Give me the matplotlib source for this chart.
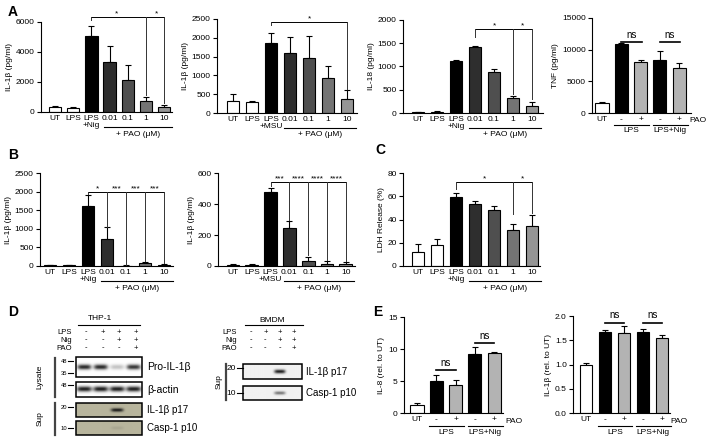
import matplotlib
matplotlib.use('Agg')
import matplotlib.pyplot as plt
import numpy as np
from matplotlib.patches import Rectangle

plt.rcParams['font.family'] = ['Liberation Sans', 'DejaVu Sans']
plt.rcParams['font.size'] = 6
plt.rcParams['axes.linewidth'] = 0.8
plt.rcParams['xtick.major.width'] = 0.8
plt.rcParams['ytick.major.width'] = 0.8
plt.rcParams['xtick.major.size'] = 3
plt.rcParams['ytick.major.size'] = 3
plt.rcParams['xtick.major.pad'] = 2
plt.rcParams['ytick.major.pad'] = 1.5

W, H = 708, 444
fig = plt.figure(figsize=(7.08, 4.44), dpi=100)

# ---------------- data ----------------
nig_cats = ['UT', 'LPS', 'LPS\n+Nig', '0.01', '0.1', '1', '10']
msu_cats = ['UT', 'LPS', 'LPS\n+MSU', '0.01', '0.1', '1', '10']
pao_cats = ['UT', '-', '+', '-', '+']

a1_vals = [300, 280, 5050, 3350, 2100, 750, 350]
a1_err = [120, 80, 650, 1050, 1050, 230, 130]
a2_vals = [320, 290, 1870, 1600, 1470, 920, 370]
a2_err = [190, 30, 250, 430, 570, 320, 230]
a3_vals = [15, 25, 1110, 1420, 890, 330, 150]
a3_err = [10, 10, 20, 25, 50, 30, 90]
a4_vals = [1600, 10900, 8100, 8400, 7100]
a4_err = [150, 150, 250, 1400, 800]
b1_vals = [25, 15, 1600, 730, 10, 75, 35]
b1_err = [15, 8, 320, 310, 5, 35, 15]
b2_vals = [8, 5, 475, 248, 35, 15, 10]
b2_err = [5, 5, 30, 45, 25, 15, 15]
c_vals = [12, 18, 59, 53, 48, 31, 34]
c_err = [7, 5, 4, 3, 4, 5, 10]
e1_vals = [1.2, 5.0, 4.4, 9.2, 9.3]
e1_err = [0.4, 1.0, 0.8, 1.1, 0.3]
e2_vals = [1.0, 1.67, 1.65, 1.66, 1.55]
e2_err = [0.03, 0.05, 0.14, 0.08, 0.05]

# blot band intensities (lanes: -/-/-, +/-/-, +/+/-, +/+/+)
lps_signs = ['-', '+', '+', '+']
nig_signs = ['-', '-', '+', '+']
pao_signs = ['-', '-', '-', '+']
thp_pro = [0.9, 0.9, 0.25, 0.85]
thp_actin = [0.95, 0.95, 0.95, 0.95]
thp_p17 = [0.0, 0.0, 0.95, 0.0]
thp_p10 = [0.0, 0.0, 0.12, 0.0]
bmdm_p17 = [0.0, 0.0, 0.95, 0.0]
bmdm_p10 = [0.0, 0.0, 0.6, 0.0]

dose_colors = ['white', 'white', 'black', '#2e2e2e', '#4f4f4f', '#747474', '#959595']
pao_colors = ['white', 'black', '#b3b3b3', 'black', '#b3b3b3']


def px_axes(l, r, t, b):
    return fig.add_axes([l / W, 1 - b / H, (r - l) / W, (b - t) / H])


def bar_panel(geom, cats, vals, errs, colors, ylim, yticks, ylabel, yfmt=None):
    l, r, t, b, x0, dx = geom
    ax = px_axes(l, r, t, b)
    x = np.arange(len(vals))
    ax.bar(x, vals, width=0.68, color=colors, edgecolor='black', linewidth=0.8, zorder=2)
    ax.errorbar(x, vals, yerr=[np.zeros(len(errs)), errs], fmt='none', ecolor='black',
                elinewidth=0.8, capsize=2.2, capthick=0.8, zorder=1)
    ax.set_xlim((l - x0) / dx, (r - x0) / dx)
    ax.set_ylim(*ylim)
    ax.set_yticks(yticks)
    if yfmt:
        ax.set_yticklabels([yfmt.format(v) for v in yticks])
    ax.set_xticks(x)
    ax.set_xticklabels(cats, linespacing=0.95)
    ax.spines['top'].set_visible(False)
    ax.spines['right'].set_visible(False)
    ax.set_ylabel(ylabel, labelpad=2)
    ax.tick_params(axis='x', length=0)
    return ax, (b - t)


def under_line(ax, hpx, x1, x2, label, dline, dtext):
    tr = ax.get_xaxis_transform()
    ax.plot([x1, x2], [-dline / hpx] * 2, color='black', lw=0.8, transform=tr, clip_on=False)
    ax.text((x1 + x2) / 2, -dtext / hpx, label, transform=tr, ha='center', va='center')


def sig(ax, x1, x2, y, drops, stars, fs=6):
    ax.plot([x1, x2], [y, y], color='black', lw=0.7, clip_on=False, zorder=3)
    for (xd, yd) in drops:
        ax.plot([xd, xd], [y, yd], color='#333333', lw=0.7, clip_on=False, zorder=3)
    for (xs, s) in stars:
        ax.text(xs, y, s, ha='center', va='bottom', fontsize=fs, clip_on=False)


def ns(ax, x1, x2, y, dy):
    ax.plot([x1, x2], [y, y], color='black', lw=1.2, clip_on=False)
    ax.text((x1 + x2) / 2, y + dy, 'ns', ha='center', va='bottom', fontsize=7)


def pao_axis(ax, hpx, dline, dtext, pao_x):
    tr = ax.get_xaxis_transform()
    ax.text(pao_x, -8 / hpx, 'PAO', transform=tr, ha='left', va='center')
    under_line(ax, hpx, 0.62, 2.42, 'LPS', dline, dtext)
    under_line(ax, hpx, 2.62, 4.45, 'LPS+Nig', dline, dtext)


# ---------------- Panel A ----------------
ax, h = bar_panel((41, 172, 22, 112, 55, 18.2), nig_cats, a1_vals, a1_err, dose_colors,
                  (0, 6000), [0, 2000, 4000, 6000], 'IL-1β (pg/ml)')
under_line(ax, h, 2.7, 6.45, '+ PAO (μM)', 15, 22)
sig(ax, 2, 6, 6330, [(2, 6150), (5, 1100), (6, 600)], [(3.4, '*'), (5.6, '*')])

ax, h = bar_panel((217, 357, 19, 113, 233, 19), msu_cats, a2_vals, a2_err, dose_colors,
                  (0, 2500), [0, 500, 1000, 1500, 2000, 2500], 'IL-1β (pg/ml)')
under_line(ax, h, 2.7, 6.45, '+ PAO (μM)', 15, 22)
sig(ax, 2, 6, 2420, [(2, 2330), (6, 640)], [(4.0, '*')])

ax, h = bar_panel((403, 543, 20, 113, 418, 19), nig_cats, a3_vals, a3_err, dose_colors,
                  (0, 2000), [0, 500, 1000, 1500, 2000], 'IL-18 (pg/ml)')
under_line(ax, h, 2.7, 6.45, '+ PAO (μM)', 15, 22)
sig(ax, 3, 6, 1800, [(3, 1640), (5, 400), (6, 300)], [(4.05, '*'), (5.5, '*')])

ax, h = bar_panel((592, 691, 18, 113, 602, 19.3), pao_cats, a4_vals, a4_err, pao_colors,
                  (0, 15000), [0, 5000, 10000, 15000], 'TNF (pg/ml)')
pao_axis(ax, h, 12, 18, 4.55)
ns(ax, 1.0, 2.05, 11200, 300)
ns(ax, 3.0, 4.05, 11200, 300)

# ---------------- Panel B ----------------
ax, h = bar_panel((40, 173, 173, 266, 50, 19), nig_cats, b1_vals, b1_err, dose_colors,
                  (0, 2500), [0, 500, 1000, 1500, 2000, 2500], 'IL-1β (pg/ml)')
under_line(ax, h, 2.7, 6.45, '+ PAO (μM)', 15, 22)
sig(ax, 2, 6, 1990, [(2, 1940), (3, 1060), (4, 40), (5, 130), (6, 70)],
    [(2.5, '*'), (3.5, '***'), (4.5, '***'), (5.5, '***')])

ax, h = bar_panel((218, 355, 173, 266, 233, 18.8), msu_cats, b2_vals, b2_err, dose_colors,
                  (0, 600), [0, 200, 400, 600], 'IL-1β (pg/ml)')
under_line(ax, h, 2.7, 6.45, '+ PAO (μM)', 15, 22)
sig(ax, 2, 6, 540, [(2, 515), (3, 300), (4, 70), (5, 40), (6, 35)],
    [(2.5, '***'), (3.5, '****'), (4.5, '****'), (5.5, '****')])

# ---------------- Panel C ----------------
ax, h = bar_panel((403, 540, 173, 266, 418, 19), nig_cats, c_vals, c_err, dose_colors,
                  (0, 80), [0, 20, 40, 60, 80], 'LDH Release (%)')
under_line(ax, h, 2.7, 6.45, '+ PAO (μM)', 15, 22)
sig(ax, 2, 6, 72, [(2, 66), (5, 45), (6, 46)], [(3.5, '*'), (5.5, '*')])

# ---------------- Panel E ----------------
ax, h = bar_panel((404, 503, 317, 413, 417, 19.3), pao_cats, e1_vals, e1_err, pao_colors,
                  (0, 15), [0, 5, 10, 15], 'IL-8 (rel. to UT)')
pao_axis(ax, h, 13, 19, 4.6)
ns(ax, 1.0, 2.0, 6.7, 0.35)
ns(ax, 3.0, 4.0, 10.9, 0.35)

ax, h = bar_panel((573, 670, 316, 413, 586, 19), pao_cats, e2_vals, e2_err, pao_colors,
                  (0, 2.0), [0, 0.5, 1.0, 1.5, 2.0], 'IL-1β (rel. to UT)', yfmt='{:.1f}')
pao_axis(ax, h, 13, 19, 4.45)
ns(ax, 1.0, 2.0, 1.86, 0.05)
ns(ax, 3.0, 4.0, 1.86, 0.05)

# ---------------- Panel D (blots) ----------------
ov = fig.add_axes([0, 0, 1, 1])
ov.set_xlim(0, W)
ov.set_ylim(H, 0)
ov.axis('off')


def blot(x0, x1, y0, y1, intens, bg, band_col, sy=0.14, bw=0.4):
    nx, ny = 240, 60
    xs = np.linspace(0, 1, nx)
    ys = np.linspace(0, 1, ny)
    n = len(intens)
    lw = 1.0 / n
    img = np.zeros((ny, nx))
    for i, a in enumerate(intens):
        cx = (i + 0.5) * lw
        px = np.exp(-((xs - cx) / (bw * lw)) ** 4)
        py = np.exp(-((ys - 0.5) / sy) ** 2)
        img += a * np.outer(py, px)
    img = np.clip(img, 0, 1)[..., None]
    bg = np.array(matplotlib.colors.to_rgb(bg))
    bc = np.array(matplotlib.colors.to_rgb(band_col))
    rgb = bg * (1 - img) + bc * img
    ov.imshow(rgb, extent=(x0, x1, y1, y0), aspect='auto', interpolation='bilinear', zorder=1)
    ov.add_patch(Rectangle((x0, y0), x1 - x0, y1 - y0, fill=False, lw=1.1, ec='black', zorder=2))


def lane_centers(x0, x1, n=4):
    return [x0 + (i + 0.5) * (x1 - x0) / n for i in range(n)]


def sign_rows(x0, x1, lab_x, ys):
    cs = lane_centers(x0, x1)
    for name, signs, y in zip(['LPS', 'Nig', 'PAO'], [lps_signs, nig_signs, pao_signs], ys):
        ov.text(lab_x, y, name, ha='right', va='center', fontsize=5.5)
        for c, s in zip(cs, signs):
            ov.text(c, y, s, ha='center', va='center', fontsize=5.5)


def mw(x, y, label):
    ov.text(x - 1, y, label, ha='right', va='center', fontsize=4.2)
    ov.plot([x, x + 5], [y, y], color='black', lw=0.8)


# THP-1
tx0, tx1 = 76, 142
ov.text(100, 318, 'THP-1', ha='center', va='center', fontsize=6)
ov.plot([78, 140], [325, 325], color='black', lw=0.8)
sign_rows(tx0 + 2, tx1 + 2, 72, [332, 340, 348])
blot(tx0, tx1, 357, 377, thp_pro, 'white', '#111111', sy=0.13, bw=0.42)
blot(tx0, tx1, 382, 397, thp_actin, 'white', '#111111', sy=0.17, bw=0.45)
blot(tx0, tx1, 403, 417, thp_p17, '#b8b59d', '#111111', sy=0.13, bw=0.38)
blot(tx0, tx1, 421, 435, thp_p10, '#b8b59d', '#333333', sy=0.12, bw=0.38)
ov.text(147, 367, 'Pro-IL-1β', ha='left', va='center', fontsize=7.5)
ov.text(147, 390, 'β-actin', ha='left', va='center', fontsize=7.5)
ov.text(147, 410, 'IL-1β p17', ha='left', va='center', fontsize=7)
ov.text(147, 428, 'Casp-1 p10', ha='left', va='center', fontsize=7)
ov.text(40, 377, 'Lysate', ha='center', va='center', rotation=90, fontsize=6)
ov.plot([55, 55], [358, 397], color='#444444', lw=1.6)
ov.text(40, 419, 'Sup', ha='center', va='center', rotation=90, fontsize=6)
ov.plot([55, 55], [403, 435], color='#444444', lw=1.6)
mw(68, 361, '48')
mw(68, 373, '35')
mw(68, 385, '48')
mw(68, 407, '20')
mw(68, 428, '10')

# BMDM
bx0, bx1 = 243, 302
ov.text(272, 320, 'BMDM', ha='center', va='center', fontsize=6)
ov.plot([245, 303], [325, 325], color='black', lw=0.8)
sign_rows(bx0 + 1, bx1 - 1, 237, [332, 340, 348])
blot(bx0, bx1, 364, 379, bmdm_p17, '#f2f2f2', '#111111', sy=0.13, bw=0.38)
blot(bx0, bx1, 386, 400, bmdm_p10, '#f2f2f2', '#222222', sy=0.12, bw=0.38)
ov.text(306, 372, 'IL-1β p17', ha='left', va='center', fontsize=7)
ov.text(306, 393, 'Casp-1 p10', ha='left', va='center', fontsize=7)
ov.text(219, 382, 'Sup', ha='center', va='center', rotation=90, fontsize=6)
ov.plot([226, 226], [364, 400], color='#444444', lw=1.6)
ov.text(236, 368, '20', ha='right', va='center', fontsize=6)
ov.plot([237, 243], [368, 368], color='black', lw=0.8)
ov.text(236, 393, '10', ha='right', va='center', fontsize=6)
ov.plot([237, 243], [393, 393], color='black', lw=0.8)

# panel letters
for lab, x, y in [('A', 8, 12), ('B', 8, 155), ('C', 375, 150), ('D', 8, 312), ('E', 373, 312)]:
    fig.text(x / W, 1 - y / H, lab, fontsize=10, fontweight='bold', ha='left', va='center')

fig.savefig('out.png', dpi=100)
